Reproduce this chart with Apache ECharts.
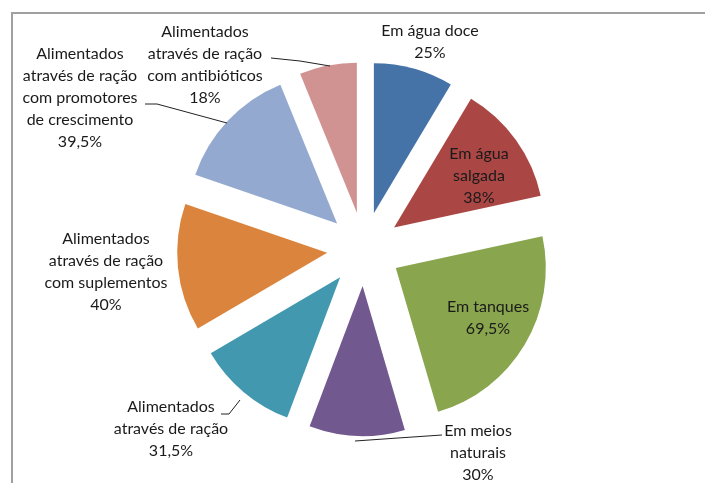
<!DOCTYPE html>
<html>
<head>
<meta charset="utf-8">
<script src="https://cdn.jsdelivr.net/npm/echarts@6/dist/echarts.min.js"></script>
<style>
  html, body { margin: 0; padding: 0; background: #fff; }
  #chart { width: 705px; height: 483px; }
</style>
</head>
<body>
<div id="chart"></div>
<script>
// categorias, com as quebras de linha dos rótulos originais
var categories = [
  'Em água doce',
  'Em água\nsalgada',
  'Em tanques',
  'Em meios\nnaturais',
  'Alimentados\natravés de ração',
  'Alimentados\natravés de ração\ncom suplementos',
  'Alimentados\natravés de ração\ncom promotores\nde crescimento',
  'Alimentados\natravés de ração\ncom antibióticos'
]
var values = [25, 38, 69.5, 30, 31.5, 40, 39.5, 18]
var colors = ['#4572A7', '#AA4643', '#89A54E', '#71588F', '#4198AF', '#DB843D', '#93A9CF', '#D19392']

// centro de cada bloco de texto
var labelPos = [[430, 42], [479, 176], [488, 318], [478, 453], [171, 429], [106, 272], [80, 98], [205, 65]]
// linhas de chamada (null = sem linha)
var guideLines = [
  null,
  null,
  null,
  [[442, 435], [398, 438], [355, 441]],
  [[221, 414], [229, 414], [240, 400]],
  null,
  [[145, 104], [157, 104], [227, 123]],
  [[271, 58], [300, 61], [330, 66]]
]

var chart = echarts.init(document.getElementById('chart'))

// fatias destacadas (sem rótulos)
var sliceData = categories.map(function (name, i) {
  return { name: name, value: values[i], selected: true, itemStyle: { color: colors[i] } }
})
// série invisível só para os rótulos
var labelData = categories.map(function (name, i) {
  return {
    name: name,
    value: values[i],
    itemStyle: { color: 'rgba(0,0,0,0)' },
    labelLine: { show: guideLines[i] != null }
  }
})

chart.setOption({
  animation: false,
  backgroundColor: '#fff',
  graphic: [
    {
      type: 'rect',
      shape: { x: 12, y: 13, width: 1000, height: 1000 },
      style: { fill: 'none', stroke: '#a0a0a0', lineWidth: 2 },
      silent: true
    }
  ],
  series: [
    {
      type: 'pie',
      z: 2,
      center: [364, 249],
      radius: 150,
      startAngle: 90,
      clockwise: true,
      selectedMode: 'multiple',
      selectedOffset: 37,
      emphasis: { disabled: true },
      label: { show: false },
      labelLine: { show: false },
      data: sliceData
    },
    {
      type: 'pie',
      z: 3,
      silent: true,
      center: [364, 249],
      radius: 150,
      startAngle: 90,
      clockwise: true,
      avoidLabelOverlap: false,
      emphasis: { disabled: true },
      data: labelData,
      label: {
        show: true,
        position: 'outside',
        color: '#1a1a1a',
        fontFamily: 'Lato',
        fontSize: 16,
        lineHeight: 22,
        align: 'center',
        formatter: function (p) {
          return p.name + '\n' + String(p.value).replace('.', ',') + '%'
        }
      },
      labelLine: {
        length: 10,
        length2: 8,
        lineStyle: { color: '#222', width: 1 }
      },
      labelLayout: function (params) {
        var i = params.dataIndex
        var out = { x: labelPos[i][0], y: labelPos[i][1], align: 'center', verticalAlign: 'middle' }
        if (guideLines[i]) out.labelLinePoints = guideLines[i]
        return out
      }
    }
  ]
})
</script>
</body>
</html>
